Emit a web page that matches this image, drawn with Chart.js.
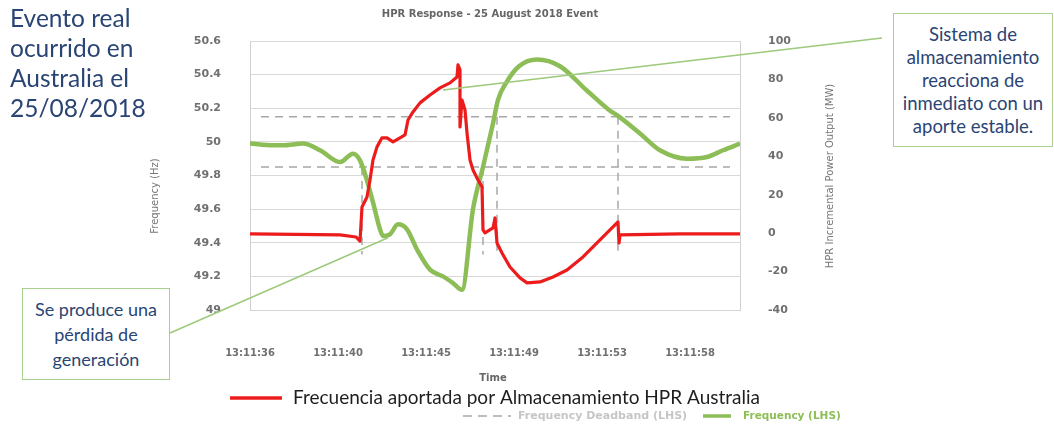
<!DOCTYPE html>
<html>
<head>
<meta charset="utf-8">
<script src="https://cdn.jsdelivr.net/npm/chart.js@4.4.1/dist/chart.umd.min.js"></script>
<style>
    body { margin: 0; background: #fff; }
    #wrap { position: relative; width: 1054px; height: 426px; overflow: hidden; }
    #chart { position: absolute; left: 0; top: 0; }
    .note { position: absolute; font-family: Lato, sans-serif; color: #2a4574; }
    #event { left: 10px; top: 3px; font-size: 24.5px; line-height: 30px; }
    .box {
        border: 1.5px solid #a9d08e; background: #fff; text-align: center; box-sizing: border-box;
        display: flex; align-items: center; justify-content: center;
    }
    #storage { left: 893px; top: 13px; width: 160px; height: 134px; font-size: 18.5px; line-height: 23px; }
    #loss { left: 22px; top: 288px; width: 148px; height: 92px; font-size: 18px; line-height: 25px; }
</style>
</head>
<body>
<div id="wrap">
    <canvas id="chart" width="1054" height="426"></canvas>
    <div class="note" id="event">Evento real<br>ocurrido en<br>Australia el<br>25/08/2018</div>
    <div class="note box" id="storage"><div>Sistema de<br>almacenamiento<br>reacciona de<br>inmediato con un<br>aporte estable.</div></div>
    <div class="note box" id="loss"><div>Se produce una<br>pérdida de<br>generación</div></div>
</div>
<script>
// seconds after 13:11:36
const timeTickLabels = ['13:11:36', '13:11:40', '13:11:45', '13:11:49', '13:11:53', '13:11:58'];
const timeTickValues = [0, 4.4, 8.8, 13.2, 17.6, 22.0];

const freqTime = [0, 1.15, 1.65, 2.65, 3.5, 4.5, 5.15, 5.5, 5.85, 6.15, 6.5, 6.65, 7.0, 7.4, 7.85, 8.35, 9.0, 9.65, 10.15, 10.6,
    11.15, 11.65, 12.15, 12.4, 12.8, 13.45, 14.35, 15.5, 16.8, 17.95, 18.4, 19.5, 20.5, 21.85, 22.85, 23.65, 24.5];
const freqHz = [49.99, 49.98, 49.98, 49.99, 49.95, 49.88, 49.93, 49.89, 49.77, 49.64, 49.48, 49.44, 49.45, 49.51, 49.48, 49.36, 49.24, 49.20, 49.16, 49.12,
    49.60, 49.85, 50.11, 50.25, 50.35, 50.45, 50.49, 50.45, 50.31, 50.19, 50.155, 50.05, 49.95, 49.90, 49.91, 49.95, 49.99];

// hand-drawn red trace over the HPR incremental output (MW, right axis)
const hprTime = [0, 4.5, 5.3, 5.5, 5.6, 5.85, 6.0, 6.15, 6.35, 6.6, 6.85, 7.15, 7.5, 7.75, 7.9, 8.15, 8.5, 9.0, 9.5, 10.0,
    10.35, 10.4, 10.5, 10.5, 10.6, 10.75, 10.85, 11.0, 11.15, 11.4, 11.6, 11.65, 11.75, 12.15, 12.25, 12.35, 12.6, 13.0, 13.5, 13.85,
    14.5, 15.15, 15.85, 16.65, 17.5, 18.35, 18.4, 18.45, 18.5, 21.5, 24.5];
const hprMW = [-0.4, -0.9, -2.0, -4.1, 13.6, 18.8, 27.7, 38.1, 44.9, 49.6, 49.6, 47.5, 49.6, 51.1, 58.9, 63.1, 67.8, 71.9, 75.6, 78.2,
    81.3, 87.6, 85.0, 55.3, 69.3, 64.1, 52.2, 38.1, 32.9, 27.7, 24.1, 1.7, 0.1, 2.7, 7.9, -5.1, -10.3, -17.6, -23.3, -25.9,
    -25.4, -22.8, -19.2, -12.4, -3.5, 5.3, 5.8, -5.1, -0.9, -0.4, -0.4];

const deadbandHz = [50.15, 49.85];
const deadbandSpan = [0.55, 24.0];
const crossingTimes = [5.6, 11.65, 12.35, 18.4];
const crossingFromHz = [49.85, 49.85, 50.15, 50.15];
const crossingToHz = 49.33;

const GREEN = '#8dbd57';
const RED = '#ec1c1c';
const DEAD = '#a8a8a8';

const deadbandPoints = [];
deadbandHz.forEach((hz) => {
    deadbandPoints.push({ x: deadbandSpan[0], y: hz }, { x: deadbandSpan[1], y: hz }, { x: deadbandSpan[1], y: null });
});
crossingTimes.forEach((t, i) => {
    deadbandPoints.push({ x: t, y: crossingFromHz[i] }, { x: t, y: crossingToHz }, { x: t, y: null });
});

Chart.defaults.font.family = '"DejaVu Sans", sans-serif';

const callouts = {
    id: 'callouts',
    afterDatasetsDraw(chart) {
        const { ctx, scales } = chart;
        ctx.save();
        ctx.strokeStyle = '#9cc97a';
        ctx.lineWidth = 1.5;
        ctx.beginPath();
        ctx.moveTo(scales.x.getPixelForValue(9.65), scales.y1.getPixelForValue(74.5));
        ctx.lineTo(882, 38);
        ctx.moveTo(scales.x.getPixelForValue(6.9), scales.y.getPixelForValue(49.43));
        ctx.lineTo(170, 333);
        ctx.stroke();
        ctx.restore();
    },
};

const texts = {
    id: 'texts',
    afterDraw(chart) {
        const { ctx, chartArea } = chart;
        ctx.save();
        ctx.textBaseline = 'middle';
        ctx.textAlign = 'center';
        ctx.fillStyle = '#666';
        ctx.font = 'bold 10px "DejaVu Sans"';
        ctx.fillText('HPR Response - 25 August 2018 Event', (chartArea.left + chartArea.right) / 2 - 5, 14);
        ctx.fillText('Time', (chartArea.left + chartArea.right) / 2 - 2, 378);

        ctx.fillStyle = '#777';
        ctx.font = '10px "DejaVu Sans"';
        ctx.save();
        ctx.translate(155, 196);
        ctx.rotate(-Math.PI / 2);
        ctx.fillText('Frequency (Hz)', 0, 0);
        ctx.restore();
        ctx.save();
        ctx.translate(830, 176);
        ctx.rotate(-Math.PI / 2);
        ctx.fillText('HPR Incremental Power Output (MW)', 0, 0);
        ctx.restore();

        // legends
        ctx.textAlign = 'left';
        ctx.lineCap = 'butt';
        ctx.strokeStyle = RED;
        ctx.lineWidth = 3.5;
        ctx.beginPath();
        ctx.moveTo(230, 398);
        ctx.lineTo(282, 398);
        ctx.stroke();
        ctx.fillStyle = '#1e1e1e';
        ctx.font = '19px Lato';
        ctx.fillText('Frecuencia aportada por Almacenamiento HPR Australia', 293, 398);

        ctx.strokeStyle = '#bdbdbd';
        ctx.lineWidth = 2;
        ctx.setLineDash([9, 6]);
        ctx.beginPath();
        ctx.moveTo(463, 416);
        ctx.lineTo(511, 416);
        ctx.stroke();
        ctx.setLineDash([]);
        ctx.font = 'bold 11px "DejaVu Sans"';
        ctx.fillStyle = '#c6c6c6';
        ctx.fillText('Frequency Deadband (LHS)', 518, 416);

        ctx.strokeStyle = GREEN;
        ctx.lineWidth = 3.5;
        ctx.beginPath();
        ctx.moveTo(703, 416);
        ctx.lineTo(731, 416);
        ctx.stroke();
        ctx.fillStyle = GREEN;
        ctx.font = 'bold 10.5px "DejaVu Sans"';
        ctx.fillText('Frequency (LHS)', 743, 416);
        ctx.restore();
    },
};

const tickFont = { size: 11, weight: 'bold' };

new Chart(document.getElementById('chart'), {
    type: 'line',
    data: {
        datasets: [
            {
                label: 'Frecuencia aportada por Almacenamiento HPR Australia',
                data: hprTime.map((t, i) => ({ x: t, y: hprMW[i] })),
                yAxisID: 'y1',
                borderColor: RED,
                borderWidth: 3.2,
                borderJoinStyle: 'round',
                borderCapStyle: 'round',
                tension: 0,
                pointRadius: 0,
            },
            {
                label: 'Frequency (LHS)',
                data: freqTime.map((t, i) => ({ x: t, y: freqHz[i] })),
                yAxisID: 'y',
                borderColor: GREEN,
                borderWidth: 4.5,
                borderJoinStyle: 'round',
                cubicInterpolationMode: 'monotone',
                pointRadius: 0,
            },
            {
                label: 'Frequency Deadband (LHS)',
                data: deadbandPoints,
                yAxisID: 'y',
                borderColor: DEAD,
                borderWidth: 1.5,
                borderDash: [8, 6],
                spanGaps: false,
                pointRadius: 0,
            },
        ],
    },
    options: {
        responsive: false,
        animation: false,
        layout: { padding: { top: 41, left: 0, right: 0, bottom: 0 } },
        plugins: { legend: { display: false }, tooltip: { enabled: false } },
        scales: {
            x: {
                type: 'linear',
                min: 0,
                max: 24.5,
                afterFit: (scale) => { scale.height = 116; },
                afterBuildTicks: (scale) => { scale.ticks = timeTickValues.map((value) => ({ value })); },
                grid: { display: false },
                border: { display: true, color: '#d4d4d4' },
                ticks: {
                    autoSkip: false,
                    maxRotation: 0,
                    padding: 29,
                    color: '#707070',
                    font: { size: 10, weight: 'bold' },
                    callback: (v, i) => timeTickLabels[i],
                },
            },
            y: {
                position: 'left',
                min: 49,
                max: 50.6,
                afterFit: (scale) => { scale.width = 250; },
                grid: { color: '#d9d9d9', drawTicks: false },
                border: { display: true, color: '#d0d0d0' },
                ticks: {
                    stepSize: 0.2,
                    padding: 29,
                    color: '#707070',
                    font: tickFont,
                    callback: (v) => String(Math.round(v * 10) / 10),
                },
            },
            y1: {
                position: 'right',
                min: -40,
                max: 100,
                afterFit: (scale) => { scale.width = 314; },
                grid: { drawOnChartArea: false, drawTicks: false },
                border: { display: true, color: '#d0d0d0' },
                ticks: { stepSize: 20, padding: 28, color: '#707070', font: tickFont },
            },
        },
    },
    plugins: [callouts, texts],
});
</script>
</body>
</html>
